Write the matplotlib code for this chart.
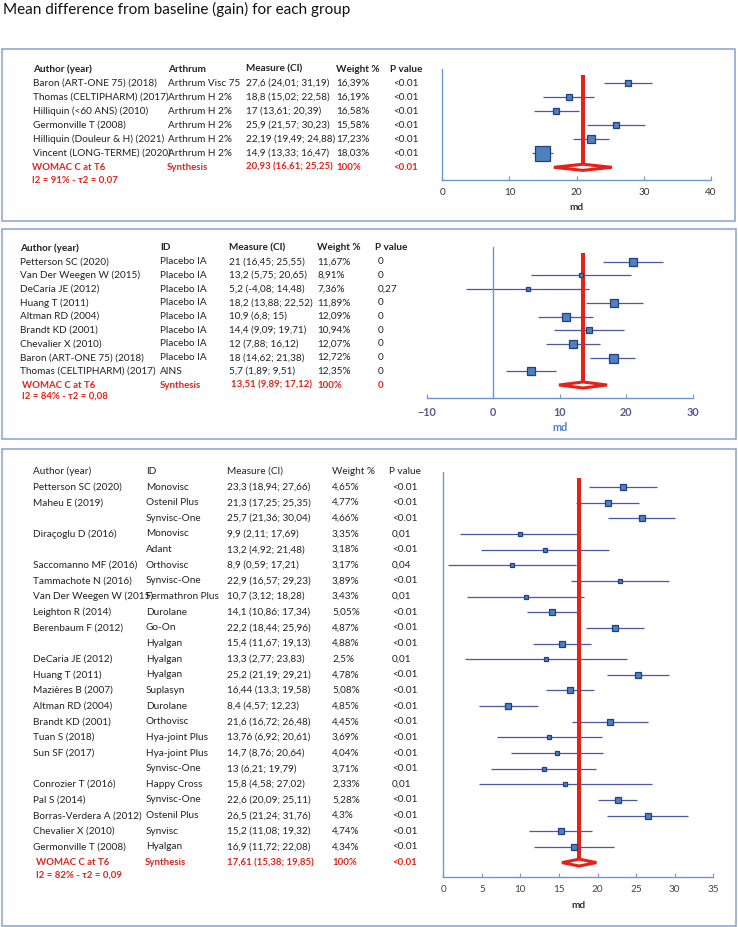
import matplotlib
matplotlib.use("Agg")
import matplotlib.pyplot as plt
import matplotlib.transforms as mtransforms
from matplotlib.patches import Rectangle, Polygon

W, H = 738, 927
plt.rcParams['font.family'] = ['Lato', 'DejaVu Sans']

# ---- panel 1 : Arthrum ----
authors1 = ["Baron (ART-ONE 75) (2018)", "Thomas (CELTIPHARM) (2017)", "Hilliquin (<60 ANS) (2010)",
            "Germonville T (2008)", "Hilliquin (Douleur & H) (2021)", "Vincent (LONG-TERME) (2020)"]
ids1 = ["Arthrum Visc 75", "Arthrum H 2%", "Arthrum H 2%", "Arthrum H 2%", "Arthrum H 2%", "Arthrum H 2%"]
md1 = [27.6, 18.8, 17, 25.9, 22.19, 14.9]
lo1 = [24.01, 15.02, 13.61, 21.57, 19.49, 13.33]
hi1 = [31.19, 22.58, 20.39, 30.23, 24.88, 16.47]
w1 = [16.39, 16.19, 16.58, 15.58, 17.23, 18.03]
p1 = ["<0.01"] * 6
synth1 = [20.93, 16.61, 25.25]
synth_p1 = "<0.01"
i2_1 = "I2 = 91% - τ2 = 0,07"

# ---- panel 2 : placebo / AINS ----
authors2 = ["Petterson SC (2020)", "Van Der Weegen W (2015)", "DeCaria JE (2012)", "Huang T (2011)",
            "Altman RD (2004)", "Brandt KD (2001)", "Chevalier X (2010)", "Baron (ART-ONE 75) (2018)",
            "Thomas (CELTIPHARM) (2017)"]
ids2 = ["Placebo IA"] * 8 + ["AINS"]
md2 = [21, 13.2, 5.2, 18.2, 10.9, 14.4, 12, 18, 5.7]
lo2 = [16.45, 5.75, -4.08, 13.88, 6.8, 9.09, 7.88, 14.62, 1.89]
hi2 = [25.55, 20.65, 14.48, 22.52, 15, 19.71, 16.12, 21.38, 9.51]
w2 = [11.67, 8.91, 7.36, 11.89, 12.09, 10.94, 12.07, 12.72, 12.35]
p2 = ["0", "0", "0,27", "0", "0", "0", "0", "0", "0"]
synth2 = [13.51, 9.89, 17.12]
synth_p2 = "0"
i2_2 = "I2 = 84% - τ2 = 0,08"

# ---- panel 3 : hyaluronic acids ----
authors3 = ["Petterson SC (2020)", "Maheu E (2019)", "", "Diraçoglu D (2016)", "", "Saccomanno MF (2016)",
            "Tammachote N (2016)", "Van Der Weegen W (2015)", "Leighton R (2014)", "Berenbaum F (2012)", "",
            "DeCaria JE (2012)", "Huang T (2011)", "Mazières B (2007)", "Altman RD (2004)", "Brandt KD (2001)",
            "Tuan S (2018)", "Sun SF (2017)", "", "Conrozier T (2016)", "Pal S (2014)",
            "Borras-Verdera A (2012)", "Chevalier X (2010)", "Germonville T (2008)"]
ids3 = ["Monovisc", "Ostenil Plus", "Synvisc-One", "Monovisc", "Adant", "Orthovisc", "Synvisc-One",
        "Fermathron Plus", "Durolane", "Go-On", "Hyalgan", "Hyalgan", "Hyalgan", "Suplasyn", "Durolane",
        "Orthovisc", "Hya-joint Plus", "Hya-joint Plus", "Synvisc-One", "Happy Cross", "Synvisc-One",
        "Ostenil Plus", "Synvisc", "Hyalgan"]
md3 = [23.3, 21.3, 25.7, 9.9, 13.2, 8.9, 22.9, 10.7, 14.1, 22.2, 15.4, 13.3, 25.2, 16.44, 8.4, 21.6,
       13.76, 14.7, 13, 15.8, 22.6, 26.5, 15.2, 16.9]
lo3 = [18.94, 17.25, 21.36, 2.11, 4.92, 0.59, 16.57, 3.12, 10.86, 18.44, 11.67, 2.77, 21.19, 13.3, 4.57,
       16.72, 6.92, 8.76, 6.21, 4.58, 20.09, 21.24, 11.08, 11.72]
hi3 = [27.66, 25.35, 30.04, 17.69, 21.48, 17.21, 29.23, 18.28, 17.34, 25.96, 19.13, 23.83, 29.21, 19.58,
       12.23, 26.48, 20.61, 20.64, 19.79, 27.02, 25.11, 31.76, 19.32, 22.08]
w3 = [4.65, 4.77, 4.66, 3.35, 3.18, 3.17, 3.89, 3.43, 5.05, 4.87, 4.88, 2.5, 4.78, 5.08, 4.85, 4.45,
      3.69, 4.04, 3.71, 2.33, 5.28, 4.3, 4.74, 4.34]
p3 = ["<0.01", "<0.01", "<0.01", "0,01", "<0.01", "0,04", "<0.01", "0,01", "<0.01", "<0.01", "<0.01",
      "0,01", "<0.01", "<0.01", "<0.01", "<0.01", "<0.01", "<0.01", "<0.01", "0,01", "<0.01", "<0.01",
      "<0.01", "<0.01"]
synth3 = [17.61, 15.38, 19.85]
synth_p3 = "<0.01"
i2_3 = "I2 = 82% - τ2 = 0,09"

RED = '#E3231A'
BLUE_LINE = '#6F94D2'
CI_COL = '#4A55A8'
TXT = '#222222'
FS = 7.2
FS_B = 6.9


def fmt(v):
    return f"{v:g}".replace('.', ',')


def measure(m, l, h):
    return f"{fmt(m)} ({fmt(l)}; {fmt(h)})"


fig = plt.figure(figsize=(W / 100, H / 100), dpi=100)


def fx(x):
    return x / W


def fy(y):
    return 1 - y / H


def frame(x0, y0, x1, y1):
    fig.patches.append(Rectangle((fx(x0), fy(y1)), fx(x1) - fx(x0), fy(y0) - fy(y1),
                                 transform=fig.transFigure, fill=False,
                                 edgecolor='#86A2D4', linewidth=1.1))


def forest(left, right, top, bottom, r0, step, xlim, ticks, md, lo, hi, w, synth,
           smin, smax, k, zero_spine=False):
    ax = fig.add_axes([fx(left), fy(bottom), fx(right) - fx(left), (bottom - top) / H])
    n = len(md)
    ax.set_xlim(*xlim)
    ax.set_ylim((bottom - r0) / step, (top - r0) / step)
    ax.set_xticks(ticks)
    ax.set_yticks([])
    ax.patch.set_alpha(0)
    for s in ['top', 'right']:
        ax.spines[s].set_visible(False)
    for s in ['left', 'bottom']:
        ax.spines[s].set_color(BLUE_LINE)
        ax.spines[s].set_linewidth(1.0)
    if zero_spine:
        ax.spines['left'].set_position(('data', 0))
    ax.tick_params(axis='x', direction='in', length=3, color=BLUE_LINE)
    wmin, wmax = min(w), max(w)
    for i in range(n):
        ax.plot([lo[i], hi[i]], [i, i], color=CI_COL, lw=0.9, zorder=2, solid_capstyle='butt')
        side = smin + (smax - smin) * ((w[i] - wmin) / (wmax - wmin)) ** k
        ax.plot(md[i], i, marker='s', markersize=side * 0.72, markerfacecolor='#4F81BD',
                markeredgecolor='#1F3F86', markeredgewidth=0.9, zorder=5, clip_on=False)
    s, sl, sh = synth
    ax.plot([s, s], [-0.6, n], color=RED, lw=2.9, zorder=3, solid_capstyle='butt')
    ax.add_patch(Polygon([(sl, n), (s, n - 0.22), (sh, n), (s, n + 0.22)], closed=True,
                         facecolor='white', edgecolor=RED, linewidth=2.2, zorder=4))
    return ax


def table(ax, cols, headers, header_bold, authors, ids, md, lo, hi, w, p, synth, synth_p,
          i2_text, synth_cols, i2_y):
    tr = mtransforms.blended_transform_factory(fig.transFigure, ax.transData)
    hw = 'bold' if header_bold else 'normal'
    for c, h in zip(cols, headers):
        ax.text(fx(c), -1, h, transform=tr, fontsize=FS, fontweight=hw, color=TXT, va='center')
    for i in range(len(md)):
        vals = [authors[i], ids[i], measure(md[i], lo[i], hi[i]), fmt(w[i]) + "%", p[i]]
        for c, v in zip(cols[:4] + [cols[4] + 3], vals):
            ax.text(fx(c), i, v, transform=tr, fontsize=FS, color=TXT, va='center')
    n = len(md)
    vals = ["WOMAC C at T6", "Synthesis", measure(*synth), "100%", synth_p]
    for c, v in zip(synth_cols, vals):
        ax.text(fx(c), n, v, transform=tr, fontsize=FS_B, fontweight='bold', color=RED, va='center')
    ax.text(fx(synth_cols[0]), i2_y, i2_text, transform=tr, fontsize=FS_B, fontweight='bold',
            color=RED, va='center')


fig.text(fx(3), fy(9), "Mean difference from baseline (gain) for each group", fontsize=11,
         color='#111111', va='center', ha='left')

# panel 1
frame(2, 49, 735, 221)
ax1 = forest(442.3, 711, 69, 180, 83.3, 14, (0, 40), [0, 10, 20, 30, 40], md1, lo1, hi1, w1,
             synth1, 6, 15, 3)
ax1.tick_params(axis='x', labelsize=FS, labelcolor='#333333', pad=6)
ax1.set_xlabel('md', fontsize=FS, fontweight='bold', color='#333333', labelpad=4)
table(ax1, [33, 168, 246, 336, 390],
      ["Author (year)", "Arthrum", "Measure (CI)", "Weight %", "P value"], True,
      authors1, ids1, md1, lo1, hi1, w1, p1, synth1, synth_p1, i2_1,
      [32, 167, 246, 336, 393], 6.93)

# panel 2
frame(2, 229, 736, 439)
ax2 = forest(426.7, 692.7, 246.7, 398.3, 261.7, 13.7, (-10, 30), [-10, 0, 10, 20, 30], md2, lo2,
             hi2, w2, synth2, 4, 9, 2, zero_spine=True)
ax2.tick_params(axis='x', labelsize=FS + 0.6, labelcolor='#58588C', pad=6)
for t in ax2.get_xticklabels():
    t.set_fontweight('bold')
ax2.set_xlabel('md', fontsize=FS + 0.6, fontweight='bold', color='#4F7EC6', labelpad=3)
table(ax2, [20, 160, 229, 317, 375],
      ["Author (year)", "ID", "Measure (CI)", "Weight %", "P value"], True,
      authors2, ids2, md2, lo2, hi2, w2, p2, synth2, synth_p2, i2_2,
      [22, 160, 231, 317, 378], 9.8)

# panel 3
frame(2, 449, 736, 926)
ax3 = forest(443.3, 713.3, 471.7, 876.7, 487, 15.65, (0, 35), [0, 5, 10, 15, 20, 25, 30, 35], md3,
             lo3, hi3, w3, synth3, 3.5, 6.5, 1.5)
ax3.tick_params(axis='x', labelsize=FS, labelcolor='#444444', pad=6)
ax3.set_xlabel('md', fontsize=FS, fontweight='bold', color='#333333', labelpad=5)
table(ax3, [33, 146, 227, 332, 389],
      ["Author (year)", "ID", "Measure (CI)", "Weight %", "P value"], False,
      authors3, ids3, md3, lo3, hi3, w3, p3, synth3, synth_p3, i2_3,
      [36, 145, 227, 332, 392], 24.8)

fig.savefig("out.png", dpi=100)
